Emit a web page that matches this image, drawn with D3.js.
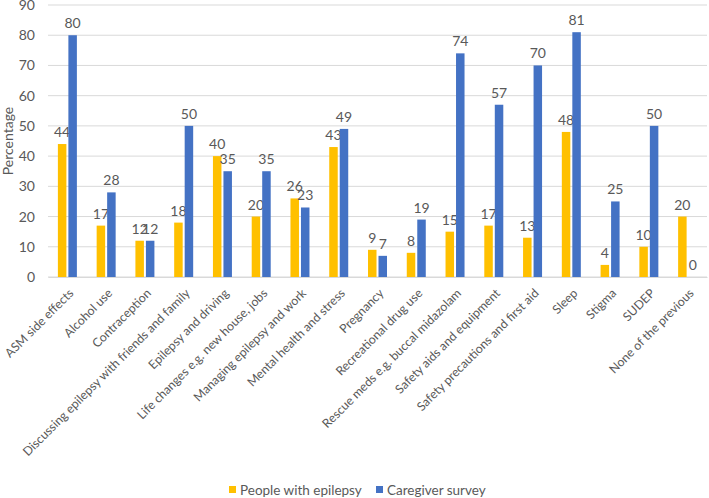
<!DOCTYPE html>
<html><head><meta charset="utf-8">
<script src="https://cdn.jsdelivr.net/npm/d3@7"></script>
<style>body{margin:0;background:#fff;} text{font-family:Lato,"Open Sans",sans-serif;fill:#595959;}</style>
</head><body>
<svg id="c" width="709" height="498"></svg>
<script>
const categories = ["ASM side effects","Alcohol use","Contraception","Discussing epilepsy with friends and family","Epilepsy and driving","Life changes e.g. new house, jobs","Managing epilepsy and work","Mental health and stress","Pregnancy","Recreational drug use","Rescue meds e.g. buccal midazolam","Safety aids and equipment","Safety precautions and first aid","Sleep","Stigma","SUDEP","None of the previous"];
const seriesNames = ["People with epilepsy","Caregiver survey"];
const peopleValues = [44,17,12,18,40,20,26,43,9,8,15,17,13,48,4,10,20];
const caregiverValues = [80,28,12,50,35,35,23,49,7,19,74,57,70,81,25,50,0];
const yTicks = [0,10,20,30,40,50,60,70,80,90];
const colors = ["#FFC000","#4472C4"];

const svg = d3.select("#c");
const m = {l:48, r:2, t:5, b:221};
const W = 709, H = 498;
const FONT = "Lato,'Open Sans',sans-serif";
const x = d3.scaleBand().domain(categories).range([m.l, W-m.r]);
const y = d3.scaleLinear().domain([0,90]).range([H-m.b, m.t]);
const bw = 8.5, sep = 2;

// gridlines
svg.append("g").selectAll("line").data(yTicks).join("line")
  .attr("x1", m.l).attr("x2", W-m.r)
  .attr("y1", d=>y(d)).attr("y2", d=>y(d))
  .attr("stroke", "#D9D9D9").attr("stroke-width", 1);

// y axis labels
const ya = svg.append("g").attr("transform", `translate(${m.l-3},0)`)
  .call(d3.axisLeft(y).tickValues(yTicks).tickSize(0).tickPadding(10));
ya.select(".domain").remove();
ya.selectAll("text").style("font-size","14px").attr("fill","#595959").style("font-family",FONT);

// bars
const series = [peopleValues, caregiverValues];
series.forEach((vals, si) => {
  const off = si===0 ? -(bw + sep/2) : sep/2;
  const g = svg.append("g");
  g.selectAll("rect").data(vals).join("rect")
    .attr("x", (d,i)=> x(categories[i]) + x.bandwidth()/2 + off)
    .attr("y", d=>y(d)).attr("width", bw).attr("height", d=>y(0)-y(d))
    .attr("fill", colors[si]);
  g.selectAll("text").data(vals).join("text")
    .attr("x", (d,i)=> x(categories[i]) + x.bandwidth()/2 + off + bw/2)
    .attr("y", d=>y(d)-7)
    .attr("text-anchor","middle").style("font-size","14px")
    .text(d=>d);
});

// x axis
const xa = svg.append("g").attr("transform", `translate(0,${y(0)})`)
  .call(d3.axisBottom(x).tickSize(0).tickPadding(0));
xa.select(".domain").attr("stroke","#D9D9D9");
xa.selectAll("text")
  .style("font-size","12.3px").style("font-family",FONT).attr("fill","#595959")
  .attr("text-anchor","end").attr("dy","0")
  .attr("transform","translate(7,17) rotate(-45)");

// y title
svg.append("text").attr("transform", `translate(13,${(m.t+y(0))/2}) rotate(-90)`)
  .attr("text-anchor","middle").style("font-size","14px").text("Percentage");

// legend
const leg = [{n:seriesNames[0], c:colors[0], x:229},{n:seriesNames[1], c:colors[1], x:376}];
leg.forEach(l=>{
  svg.append("rect").attr("x", l.x).attr("y", 486).attr("width", 7).attr("height", 7).attr("fill", l.c);
  svg.append("text").attr("x", l.x+11).attr("y", 494.5).style("font-size","13.5px").text(l.n);
});
</script>
</body></html>
